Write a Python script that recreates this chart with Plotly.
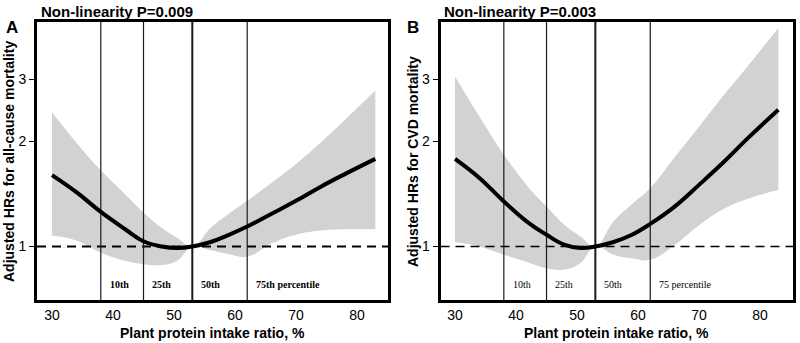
import math
import plotly.graph_objects as go

# Plant protein intake ratio (%) at which the spline estimates are tabulated
pct = [30, 34, 38, 42, 45, 48, 50.5, 53, 56, 59, 62, 66, 70, 74, 78, 83]

# All-cause mortality: hazard ratio with 95% CI
all_hr = [1.60, 1.43, 1.255, 1.12, 1.035, 1.00, 0.99, 1.00, 1.03, 1.08, 1.14, 1.24, 1.35, 1.48, 1.61, 1.78]
all_hi = [2.42, 1.98, 1.65, 1.41, 1.25, 1.13, 1.06, 1.00, 1.13, 1.24, 1.35, 1.52, 1.72, 1.98, 2.30, 2.79]
all_lo = [1.075, 1.04, 0.96, 0.91, 0.89, 0.885, 0.91, 1.00, 0.975, 0.95, 0.935, 1.02, 1.08, 1.11, 1.12, 1.12]

# CVD mortality: hazard ratio with 95% CI
cvd_hr = [1.78, 1.57, 1.345, 1.17, 1.08, 1.01, 0.99, 1.00, 1.03, 1.08, 1.16, 1.30, 1.50, 1.74, 2.04, 2.46]
cvd_hi = [3.06, 2.35, 1.83, 1.48, 1.30, 1.15, 1.07, 1.00, 1.18, 1.32, 1.47, 1.80, 2.20, 2.70, 3.28, 4.21]
cvd_lo = [1.03, 1.00, 0.947, 0.90, 0.867, 0.86, 0.895, 1.00, 0.947, 0.925, 0.916, 1.01, 1.15, 1.28, 1.37, 1.45]

# Percentile cut points of the intake ratio
cuts = [38, 45, 53, 62]
cut_labels_a = ["10th", "25th", "50th", "75th percentile"]
cut_labels_b = ["10th", "25th", "50th", "75 percentile"]

x_ticks = [30, 40, 50, 60, 70, 80]
y_ticks = [1, 2, 3]

W, H = 800, 343
SANS = "Liberation Sans, Arial, sans-serif"
SERIF = "Liberation Serif, Times New Roman, serif"
GREY = "#d2d2d2"
SMOOTH = 1.2


def px(x):
    return x / W


def py(y):
    return 1 - y / H


panels = [
    dict(hr=all_hr, hi=all_hi, lo=all_lo, xa="x", ya="y", letter="A",
         p="Non-linearity P=0.009", ytitle="Adjusted HRs for all-cause mortality",
         xdom=[37, 388], xr=[27.54, 85.08], labels=cut_labels_a, bold=True,
         dash_w=2, title_x=39, letter_x=12, ytitle_x=9),
    dict(hr=cvd_hr, hi=cvd_hi, lo=cvd_lo, xa="x2", ya="y2", letter="B",
         p="Non-linearity P=0.003", ytitle="Adjusted HRs for CVD mortality",
         xdom=[440.5, 793], xr=[27.62, 85.4], labels=cut_labels_b, bold=False,
         dash_w=1.6, title_x=442, letter_x=413, ytitle_x=413),
]

fig = go.Figure()
annotations = []
layout_axes = {}

y_dom = [py(300), py(22)]
y_range = [-0.1529, 0.6414]

for i, pn in enumerate(panels):
    xa, ya = pn["xa"], pn["ya"]
    # confidence band: lower edge, then upper edge filled down to it
    fig.add_trace(go.Scatter(x=pct, y=pn["lo"], mode="lines", xaxis=xa, yaxis=ya,
                             line=dict(color=GREY, width=0, shape="spline", smoothing=SMOOTH),
                             showlegend=False, hoverinfo="skip"))
    fig.add_trace(go.Scatter(x=pct, y=pn["hi"], mode="lines", xaxis=xa, yaxis=ya,
                             fill="tonexty", fillcolor=GREY,
                             line=dict(color=GREY, width=0, shape="spline", smoothing=SMOOTH),
                             showlegend=False, hoverinfo="skip"))
    # reference line at HR = 1
    fig.add_trace(go.Scatter(x=pn["xr"], y=[1, 1], mode="lines", xaxis=xa, yaxis=ya,
                             line=dict(color="black", width=pn["dash_w"], dash="9px,6px"),
                             showlegend=False, hoverinfo="skip"))
    # percentile cut lines
    for c in cuts:
        fig.add_trace(go.Scatter(x=[c, c], y=[10 ** y_range[0], 10 ** y_range[1]], mode="lines",
                                 xaxis=xa, yaxis=ya,
                                 line=dict(color="#1a1a1a", width=2 if c == 53 else 1.2),
                                 showlegend=False, hoverinfo="skip"))
    # hazard ratio curve
    fig.add_trace(go.Scatter(x=pct, y=pn["hr"], mode="lines", xaxis=xa, yaxis=ya,
                             line=dict(color="black", width=4, shape="spline", smoothing=SMOOTH),
                             showlegend=False, hoverinfo="skip"))

    suffix = "" if i == 0 else "2"
    layout_axes["xaxis" + suffix] = dict(
        domain=[px(pn["xdom"][0]), px(pn["xdom"][1])], range=pn["xr"], anchor=ya,
        tickvals=x_ticks, ticks="", showgrid=False, zeroline=False,
        showline=True, linecolor="black", linewidth=3, mirror=True,
        tickfont=dict(family=SANS, size=14, color="black"),
    )
    layout_axes["yaxis" + suffix] = dict(
        domain=y_dom, type="log", range=y_range, anchor=xa,
        tickvals=y_ticks, ticktext=[str(v) for v in y_ticks], ticks="outside",
        ticklen=5, tickwidth=1, tickcolor="black", showgrid=False, zeroline=False,
        showline=True, linecolor="black", linewidth=3, mirror=True,
        tickfont=dict(family=SANS, size=14, color="black"),
    )

    # percentile labels
    for c, lab in zip(cuts, pn["labels"]):
        txt = f"<b>{lab}</b>" if pn["bold"] else lab
        annotations.append(dict(x=c + 1.1, y=py(284), xref=xa, yref="paper",
                                text=txt, showarrow=False, xanchor="left", yanchor="middle",
                                font=dict(family=SERIF, size=10, color="black")))
    # panel headings
    annotations.append(dict(x=px(pn["title_x"]), y=py(12), xref="paper", yref="paper",
                            text=f"<b>{pn['p']}</b>", showarrow=False, xanchor="left",
                            yanchor="middle", font=dict(family=SANS, size=15, color="black")))
    annotations.append(dict(x=px(pn["letter_x"]), y=py(28), xref="paper", yref="paper",
                            text=f"<b>{pn['letter']}</b>", showarrow=False, xanchor="center",
                            yanchor="middle", font=dict(family=SANS, size=17, color="black")))
    # axis titles
    annotations.append(dict(x=px(pn["ytitle_x"]), y=py(162), xref="paper", yref="paper",
                            text=f"<b>{pn['ytitle']}</b>", textangle=-90, showarrow=False,
                            xanchor="center", yanchor="middle",
                            font=dict(family=SANS, size=14, color="black")))
    annotations.append(dict(x=px((pn["xdom"][0] + pn["xdom"][1]) / 2), y=py(333),
                            xref="paper", yref="paper",
                            text="<b>Plant protein intake ratio, %</b>", showarrow=False,
                            xanchor="center", yanchor="middle",
                            font=dict(family=SANS, size=14, color="black")))

fig.update_layout(
    width=W, height=H, margin=dict(l=0, r=0, t=0, b=0),
    paper_bgcolor="white", plot_bgcolor="white",
    annotations=annotations, showlegend=False,
    **layout_axes,
)

fig.write_html("out.html")
